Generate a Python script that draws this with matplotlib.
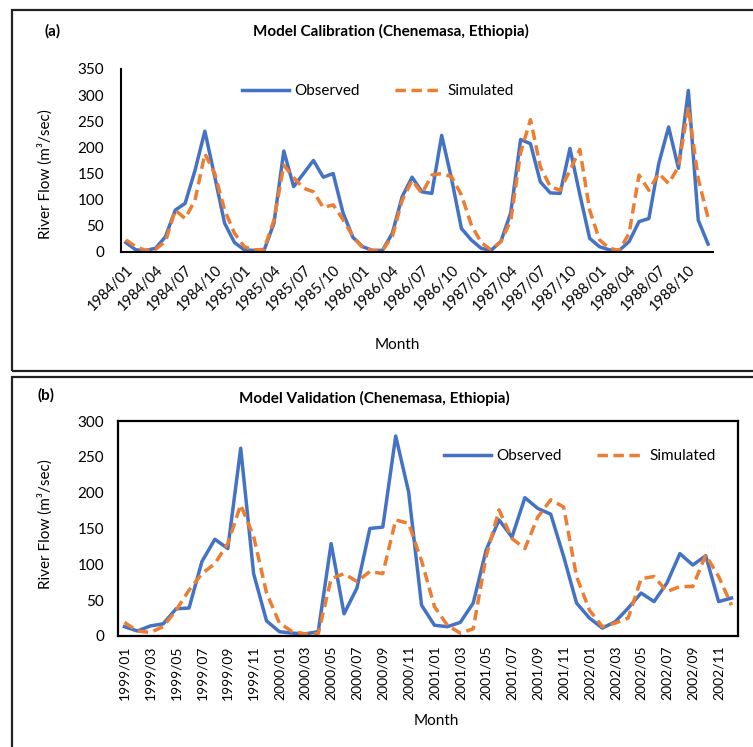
import matplotlib
matplotlib.use("Agg")
import matplotlib.pyplot as plt
from matplotlib.patches import Rectangle

plt.rcParams['font.family'] = ['Lato', 'DejaVu Sans']

# (a) calibration, monthly flows 1984/01 .. 1988/12 (m3/sec)
cal_months = [f"{y}/{m:02d}" for y in range(1984, 1989) for m in range(1, 13)]
cal_obs = [18, 4, 3, 7, 29, 80, 93, 156, 231, 144, 55, 18,
           4, 3, 3, 55, 193, 125, 150, 175, 143, 150, 75, 28,
           10, 3, 3, 36, 106, 143, 115, 112, 223, 140, 45, 23,
           7, 3, 20, 75, 215, 207, 134, 113, 112, 198, 110, 26,
           10, 4, 3, 20, 58, 64, 169, 239, 160, 309, 61, 15]
cal_sim = [23, 10, 3, 5, 20, 80, 64, 99, 188, 150, 80, 36,
           10, 4, 5, 61, 166, 142, 122, 115, 85, 90, 62, 30,
           8, 3, 3, 30, 99, 137, 112, 147, 150, 144, 109, 52,
           18, 4, 20, 60, 190, 253, 163, 125, 118, 156, 196, 80,
           23, 7, 3, 36, 147, 118, 150, 131, 163, 277, 140, 65]

# (b) validation, monthly flows 1999/01 .. 2002/12
val_months = [f"{y}/{m:02d}" for y in range(1999, 2003) for m in range(1, 13)]
val_obs = [13, 7, 14, 17, 38, 39, 104, 135, 122, 262, 87, 21,
           6, 4, 3, 6, 129, 31, 67, 150, 152, 279, 201, 43,
           15, 13, 19, 46, 120, 162, 138, 193, 178, 170, 111, 46,
           25, 11, 20, 39, 60, 48, 74, 115, 99, 112, 48, 53]
val_sim = [19, 7, 5, 13, 36, 64, 87, 101, 129, 183, 139, 60,
           18, 6, 3, 3, 80, 87, 76, 90, 87, 162, 157, 105,
           41, 15, 4, 10, 111, 176, 136, 122, 166, 190, 180, 83,
           36, 13, 18, 25, 80, 83, 62, 69, 69, 113, 83, 43]

blue = '#4472C4'
orange = '#ED7D31'

fig = plt.figure(figsize=(7.53, 7.47), dpi=100)

# panel frames
fig.patches.append(Rectangle((0.016, 0.503), 1.2, 0.484, transform=fig.transFigure,
                             fill=False, lw=1.6, ec='#222222'))
fig.patches.append(Rectangle((0.016, -0.2), 1.2, 0.695, transform=fig.transFigure,
                             fill=False, lw=1.6, ec='#222222'))

# ---- (a) ----
ax1 = fig.add_axes([0.1607, 0.6627, 0.7862, 0.2450])
x1 = list(range(len(cal_months)))
ax1.plot(x1, cal_obs, color=blue, lw=2.5, label='Observed')
ax1.plot(x1, cal_sim, color=orange, lw=2.5, dashes=(3, 1.6), label='Simulated')
ax1.set_xlim(-0.5, len(cal_months) - 0.5)
ax1.set_ylim(0, 350)
ax1.set_yticks(range(0, 351, 50))
ax1.set_xticks(x1[::3])
ax1.set_xticklabels(cal_months[::3], rotation=45, ha='right', rotation_mode='anchor')
ax1.tick_params(length=0, labelsize=11)
ax1.tick_params(axis='y', pad=12)
ax1.tick_params(axis='x', pad=8, labelsize=10.5)
ax1.spines['top'].set_visible(False)
ax1.spines['right'].set_visible(False)
ax1.spines['left'].set_linewidth(1.5)
ax1.spines['bottom'].set_linewidth(1.5)
ax1.legend(loc='center', bbox_to_anchor=(0.434, 0.88), ncol=2, frameon=False,
           fontsize=11, handlelength=3.1, handletextpad=0.35, columnspacing=2.3)

fig.text(0.519, 0.958, 'Model Calibration (Chenemasa, Ethiopia)', ha='center', va='center',
         fontsize=11, fontweight='bold')
fig.text(0.070, 0.958, '(a)', ha='center', va='center', fontsize=11, fontweight='bold')
fig.text(0.060, 0.767, 'River Flow (m³/sec)', rotation=90, ha='center', va='center', fontsize=11)
fig.text(0.528, 0.538, 'Month', ha='center', va='center', fontsize=11)

# ---- (b) ----
ax2 = fig.add_axes([0.1567, 0.1486, 0.8234, 0.2878])
x2 = list(range(len(val_months)))
ax2.plot(x2, val_obs, color=blue, lw=2.5, label='Observed')
ax2.plot(x2, val_sim, color=orange, lw=2.5, dashes=(3, 1.6), label='Simulated')
ax2.set_xlim(-0.5, len(val_months) - 0.5)
ax2.set_ylim(0, 300)
ax2.set_yticks(range(0, 301, 50))
ax2.set_xticks(x2[::2])
ax2.set_xticklabels(val_months[::2], rotation=90)
ax2.tick_params(length=0, labelsize=11)
ax2.tick_params(axis='y', pad=10)
ax2.tick_params(axis='x', pad=7, labelsize=10)
for s in ax2.spines.values():
    s.set_linewidth(1.6)
ax2.legend(loc='center', bbox_to_anchor=(0.745, 0.837), ncol=2, frameon=False,
           fontsize=11, handlelength=3.1, handletextpad=0.35, columnspacing=2.3)

fig.text(0.497, 0.466, 'Model Validation (Chenemasa, Ethiopia)', ha='center', va='center',
         fontsize=11, fontweight='bold')
fig.text(0.061, 0.471, '(b)', ha='center', va='center', fontsize=11, fontweight='bold')
fig.text(0.060, 0.2985, 'River Flow (m³/sec)', rotation=90, ha='center', va='center', fontsize=11)
fig.text(0.580, 0.035, 'Month', ha='center', va='center', fontsize=11)

fig.savefig('out.png', dpi=100)
